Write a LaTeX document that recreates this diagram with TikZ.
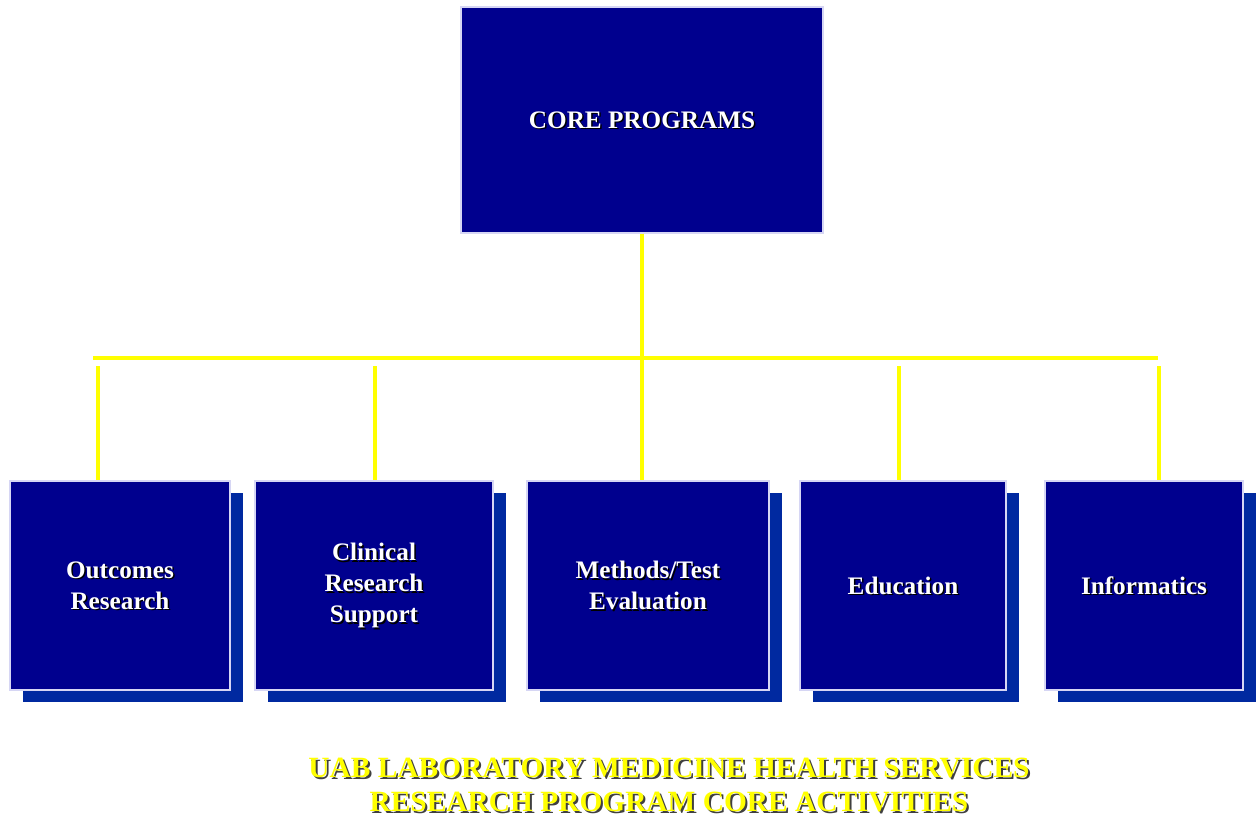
\documentclass[tikz,border=0pt]{standalone}
\usepackage{fontspec}
\setmainfont{Liberation Serif}
\usetikzlibrary{shadows}
\definecolor{navy}{RGB}{0,0,142}
\definecolor{shadowblue}{RGB}{0,41,160}
\definecolor{edgeblue}{RGB}{214,214,244}
\definecolor{busyellow}{RGB}{255,255,0}
\tikzset{
	corebox/.style={draw=edgeblue, line width=0.6pt, fill=navy, inner sep=0pt},
	unitbox/.style={corebox, drop shadow={shadow xshift=6.5pt, shadow yshift=-6pt, fill=shadowblue, opacity=1}},
	boxtext/.style={font=\bfseries\fontsize{12.6}{15.5}\selectfont, align=center, inner sep=0pt, text=white},
	boxshade/.style={boxtext, text=black},
	titletext/.style={font=\bfseries\fontsize{14.7}{17}\selectfont, align=center, inner sep=0pt, text=busyellow},
	titleshade/.style={titletext, text=black!75},
	bus/.style={busyellow, line width=2pt}
}

\begin{document}
\begin{tikzpicture}[x=0.5pt, y=-0.5pt]
			%%%%% START %%%%%
			\useasboundingbox (0, 0) rectangle (1259, 819);
			
			\node[corebox, minimum width=181pt, minimum height=113pt] (core) at (642, 120) {};
			\node[boxshade] (core-sh) at ([xshift=0.75pt, yshift=-0.75pt]core.center) {CORE PROGRAMS};
			\node[boxtext] (core-txt) at (core.center) {CORE PROGRAMS};
			
			\node[unitbox, minimum width=110pt, minimum height=104.5pt] (outc) at (120, 585.5) {};
			\node[unitbox, minimum width=119pt, minimum height=104.5pt] (clin) at (374, 585.5) {};
			\node[unitbox, minimum width=121pt, minimum height=104.5pt] (meth) at (648, 585.5) {};
			\node[unitbox, minimum width=103pt, minimum height=104.5pt] (educ) at (903, 585.5) {};
			\node[unitbox, minimum width=99pt, minimum height=104.5pt] (info) at (1144, 585.5) {};
			
			\node[boxshade] (outc-sh) at ([xshift=0.75pt, yshift=-0.75pt]outc.center) {Outcomes\\Research};
			\node[boxtext] (outc-txt) at (outc.center) {Outcomes\\Research};
			\node[boxshade] (clin-sh) at ([xshift=0.75pt, yshift=-0.75pt]clin.center) {Clinical\\Research\\Support};
			\node[boxtext] (clin-txt) at (clin.center) {Clinical\\Research\\Support};
			\node[boxshade] (meth-sh) at ([xshift=0.75pt, yshift=-0.75pt]meth.center) {Methods/Test\\Evaluation};
			\node[boxtext] (meth-txt) at (meth.center) {Methods/Test\\Evaluation};
			\node[boxshade] (educ-sh) at ([xshift=0.75pt, yshift=-0.75pt]educ.center) {Education};
			\node[boxtext] (educ-txt) at (educ.center) {Education};
			\node[boxshade] (info-sh) at ([xshift=0.75pt, yshift=-0.75pt]info.center) {Informatics};
			\node[boxtext] (info-txt) at (info.center) {Informatics};
			
			\coordinate (busL) at (93, 358);
			\coordinate (busR) at (1158, 358);
			\coordinate (drop1) at (98, 366);
			\coordinate (drop2) at (375, 366);
			\coordinate (drop4) at (899, 366);
			\coordinate (drop5) at (1159, 366);
			
			\draw[bus] (busL) -- (busR);
			\draw[bus] (core.south) -- (core.south |- meth.north);
			\draw[bus] (drop1) -- (drop1 |- outc.north);
			\draw[bus] (drop2) -- (drop2 |- clin.north);
			\draw[bus] (drop4) -- (drop4 |- educ.north);
			\draw[bus] (drop5) -- (drop5 |- info.north);
			
			\node[titleshade] (title-sh) at (671, 786.5) {UAB LABORATORY MEDICINE HEALTH SERVICES\\RESEARCH PROGRAM CORE ACTIVITIES};
			\node[titletext] (title) at (669, 785) {UAB LABORATORY MEDICINE HEALTH SERVICES\\RESEARCH PROGRAM CORE ACTIVITIES};
			
			%%%%% END %%%%%
\end{tikzpicture}
\end{document}
